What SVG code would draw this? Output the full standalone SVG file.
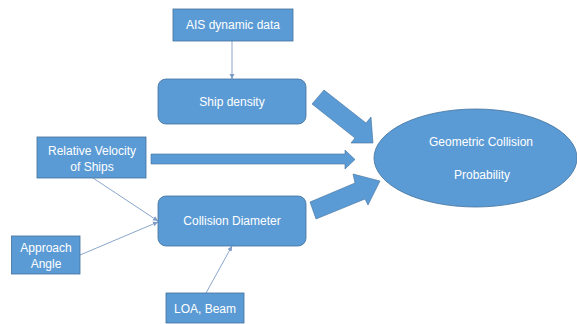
<svg xmlns="http://www.w3.org/2000/svg" width="577" height="324" viewBox="0 0 577 324">
<style>
.box{fill:#5B9BD5;stroke:#41719C;stroke-width:0.8}
.blk{fill:#5B9BD5;stroke:#41719C;stroke-width:0.6}
.t{font-family:"Liberation Sans",Arial,sans-serif;font-size:12px;fill:#ffffff;text-anchor:middle}
.c{stroke:#7E9CC4;stroke-width:0.9;fill:none}
</style>
<defs>
<marker id="ah" markerWidth="6" markerHeight="6" refX="5" refY="3" orient="auto" markerUnits="userSpaceOnUse">
<path d="M0,0.5 L5,3 L0,5.5 Z" fill="#7E9CC4"/>
</marker>
</defs>
<rect width="577" height="324" fill="#ffffff"/>
<g id="connectors">
<line class="c" x1="232" y1="41" x2="232" y2="79" marker-end="url(#ah)"/>
<line class="c" x1="93" y1="178" x2="158" y2="221" marker-end="url(#ah)"/>
<line class="c" x1="80" y1="255" x2="158" y2="222" marker-end="url(#ah)"/>
<line class="c" x1="206" y1="293" x2="232" y2="246" marker-end="url(#ah)"/>
<polygon class="blk" points="312,104 324,90 366,123 371,117 373,143 351,143 355,138"/>
<polygon class="blk" points="151,154 345,154 345,150 355,159.5 345,169 345,164 151,164"/>
<polygon class="blk" points="310,202 355,183 353,174 380,181 368,205 365,199 316,219"/>
</g>
<g id="ais">
<rect class="box" x="173" y="9" width="120" height="32"/>
<text class="t" x="233" y="29">AIS dynamic data</text>
</g>
<g id="shipdensity">
<rect class="box" x="158" y="79" width="148" height="45" rx="8"/>
<text class="t" x="232" y="106">Ship density</text>
</g>
<g id="relvel">
<rect class="box" x="37" y="137" width="109" height="41"/>
<text class="t" x="92" y="155">Relative Velocity</text>
<text class="t" x="92" y="171">of Ships</text>
</g>
<g id="colldiam">
<rect class="box" x="158" y="196" width="148" height="50" rx="8"/>
<text class="t" x="232" y="225">Collision Diameter</text>
</g>
<g id="approach">
<rect class="box" x="11.5" y="236" width="68.5" height="38"/>
<text class="t" x="46" y="252">Approach</text>
<text class="t" x="46" y="268">Angle</text>
</g>
<g id="loa">
<rect class="box" x="166" y="293" width="78" height="30"/>
<text class="t" x="205" y="313">LOA, Beam</text>
</g>
<g id="gcp">
<ellipse class="box" cx="475.5" cy="158" rx="101.5" ry="49"/>
<text class="t" x="481" y="146">Geometric Collision</text>
<text class="t" x="482" y="179">Probability</text>
</g>
</svg>
